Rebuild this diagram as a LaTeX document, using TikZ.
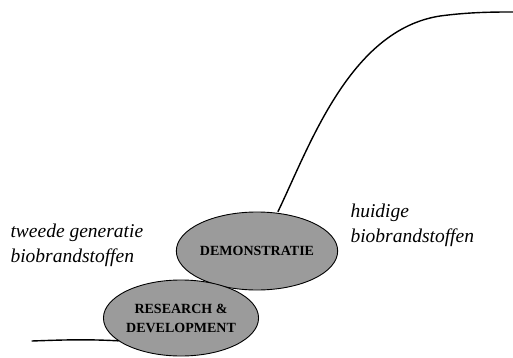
\documentclass[tikz,border=0pt]{standalone}
\usepackage{fontspec}
\setmainfont{Liberation Serif}
\usetikzlibrary{shapes.geometric}
\definecolor{phasefill}{RGB}{155,155,155}
\begin{document}
\begin{tikzpicture}[x=1pt,y=-1pt,
  phase/.style={ellipse,draw=black,line width=0.9pt,fill=phasefill,inner sep=0pt,
    align=center,font=\fontsize{14}{19}\selectfont\bfseries},
  label/.style={anchor=base west,align=left,font=\fontsize{19.5}{24.5}\selectfont\itshape},
  curve/.style={line width=1.4pt,line join=round,line cap=round}]
\useasboundingbox (0,0) rectangle (513,358);
% the two phases of the learning curve
\node[phase,minimum width=152pt,minimum height=78pt] (demo) at (257,251) {DEMONSTRATIE};
\node[phase,minimum width=152pt,minimum height=76pt] (rd) at (181,318) {RESEARCH \&\\DEVELOPMENT};
% the curve itself
\coordinate (start) at (32,341);
\coordinate (top) at (513,12);
\draw[curve] (start) .. controls (60,340) and (85,339) .. (rd.200);
\draw[curve] (demo.north -| 278,0) .. controls (310,145) and (350,30) .. (440,16)
  .. controls (470,12) and (495,12) .. (top);
% captions (anchored at the baseline of their last line)
\node[label] (second) at (7,262) {tweede generatie\\biobrandstoffen};
\node[label] (current) at (347,242) {huidige\\biobrandstoffen};
\end{tikzpicture}
\end{document}
